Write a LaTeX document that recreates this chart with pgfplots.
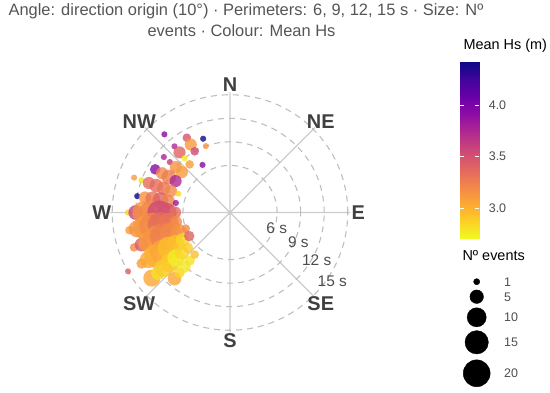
\documentclass[border=0pt]{standalone}
\usepackage{fontspec}
\setmainfont{Liberation Sans}
\usepackage{pgfplots}
\pgfplotsset{compat=1.18}
\usepackage{pgfplotstable}
\usepgfplotslibrary{polar}

\definecolor{titlegray}{HTML}{555555}
\definecolor{txtgray}{HTML}{4D4D4D}
\definecolor{lblgray}{HTML}{404040}
\definecolor{spoke}{HTML}{CCCCCC}
\definecolor{ring}{HTML}{BEBEBE}

% plasma, reversed (low = yellow)
\pgfplotsset{colormap={plasmar}{
  rgb255=(240,249,33) rgb255=(252,206,37) rgb255=(252,166,54)
  rgb255=(242,132,75) rgb255=(225,100,98) rgb255=(204,71,120)
  rgb255=(177,42,144) rgb255=(143,13,164) rgb255=(106,0,168)
  rgb255=(65,4,157) rgb255=(13,8,135)}}

% dir = direction origin (deg), per = period (s), n = events, hs = mean Hs (m)
\pgfplotstableread{
dir per n hs
320 13 1 3.95
330 11 2 3.50
340 10 1 4.40
330 10 4 3.12
340 9 1 3.15
320 11 1 3.75
320 10 4 3.40
330 9 2 3.55
320 9 1 2.75
310 11 1 3.78
310 10 1 3.65
320 8 2 3.10
330 7 1 3.95
300 11 3 3.95
310 9 4 3.15
310 8 4 3.10
300 10 4 3.20
300 9 6 3.25
300 8 4 3.75
290 13 1 3.10
290 12 1 2.80
290 11 4 3.35
290 10 5 3.35
290 9 5 3.30
290 8 4 3.20
290 7 1 2.85
280 12 1 4.42
280 11 4 3.15
280 10 6 3.30
280 9 7 3.40
280 8 5 3.25
280 7 1 3.85
270 13 1 2.85
270 12 6 3.60
270 11 14 3.15
270 10 16 3.20
270 9 16 3.55
270 8 10 3.50
270 7 4 3.35
260 13 2 3.10
260 12 8 3.15
260 11 16 3.12
260 10 20 3.20
260 9 18 3.35
260 8 12 3.30
260 7 4 3.20
250 13 2 3.20
250 12 5 3.45
250 11 12 3.10
250 10 20 3.15
250 9 20 3.25
250 8 14 3.20
250 7 6 3.15
250 6 2 3.20
240 15 1 3.40
240 13 3 3.10
240 12 8 3.05
240 11 14 3.00
240 10 16 3.05
240 9 14 2.95
240 8 9 2.95
240 7 5 2.85
240 6 3 3.40
230 13 8 3.05
230 12 5 2.80
230 11 9 2.90
230 10 10 2.90
230 9 8 2.75
230 8 5 2.85
230 7 3 2.90
220 11 5 3.05
220 10 3 2.85
220 9 4 2.78
220 8 3 2.80
220 7 2 2.95
}\waves

% size key, in picture pixels (y downwards)
\pgfplotstableread{
x y n
476.7 281.7 1
476.7 296.7 5
476.7 317.3 10
476.7 342.3 15
476.7 373.3 20
}\sizekey

\pgfplotsset{
  dotsize/.style={
    visualization depends on={3.1+3.0*(sqrt(\thisrow{n})-1) \as \msize},
    scatter/@pre marker code/.append style={/tikz/mark size=\msize}
  },
}
\tikzset{
  compass/.style={font=\fontsize{20}{24}\selectfont\bfseries, text=lblgray},
  ring label/.style={font=\fontsize{15.5}{18}\selectfont, text=txtgray},
  key label/.style={anchor=base west, inner sep=0pt, font=\fontsize{12.5}{15}\selectfont, text=txtgray},
}

\begin{document}
\begin{tikzpicture}
\useasboundingbox (0,0) rectangle (550bp,393bp);

\begin{polaraxis}[
  at={(230bp,180.5bp)}, anchor=center,
  scale only axis, width=240.2bp, height=240.2bp,
  xmin=0, xmax=360, ymin=0, ymax=15.3,
  xtick={0,45,...,315}, ytick={6,9,12,15},
  xticklabel={\mbox{}}, yticklabel={\mbox{}},
  major tick length=0pt,
  xmajorgrids, ymajorgrids,
  x grid style={spoke, line width=1.3bp},
  y grid style={ring, line width=1.1bp, dash pattern=on 6bp off 5bp},
  axis line style={draw=none},
  clip=false,
  colormap name=plasmar,
  point meta min=2.71, point meta max=4.42,
]
\addplot[scatter, only marks, mark=*,
  point meta=\thisrow{hs},
  scatter/use mapped color={draw=mapped color, fill=mapped color},
  dotsize,
  mark options={fill opacity=0.8, draw opacity=0}]
  table[x expr={mod(450-\thisrow{dir},360)}, y=per] {\waves};

\node[compass] at (axis cs:90,16.35) {N};
\node[compass] at (axis cs:45,16.35) {NE};
\node[compass] at (axis cs:0,16.35) {E};
\node[compass] at (axis cs:315,16.35) {SE};
\node[compass] at (axis cs:270,16.35) {S};
\node[compass] at (axis cs:225,16.35) {SW};
\node[compass] at (axis cs:180,16.35) {W};
\node[compass] at (axis cs:135,16.35) {NW};
\end{polaraxis}

% colour key
\begin{axis}[
  at={(460bp,154.7bp)}, anchor=south west,
  scale only axis, width=19.3bp, height=176.6bp,
  xmin=0, xmax=1, ymin=2.71, ymax=4.42,
  axis line style={draw=none},
  xtick=\empty, ytick={3,3.5,4},
  ytick pos=both, yticklabel pos=right,
  tick align=inside, major tick length=4bp,
  every tick/.style={draw=white, line width=0.8bp},
  axis on top,
  yticklabel style={font=\fontsize{12.5}{15}\selectfont, text=txtgray, xshift=6bp,
    /pgf/number format/.cd, fixed, fixed zerofill, precision=1, assume math mode=true},
  colormap name=plasmar,
  point meta min=2.71, point meta max=4.42,
]
\addplot[patch, patch type=rectangle, shader=interp, point meta=y]
  coordinates {(0,2.71) (1,2.71) (1,4.42) (0,4.42)};
\end{axis}

% texts and size key, in picture pixels
\begin{axis}[
  at={(0,0)}, anchor=south west,
  scale only axis, width=550bp, height=393bp,
  xmin=0, xmax=550, ymin=0, ymax=393, y dir=reverse,
  hide axis, clip=false,
]
\addplot[scatter, only marks, mark=*,
  point meta=\thisrow{n},
  scatter/use mapped color={draw=black, fill=black},
  dotsize]
  table[x=x, y=y] {\sizekey};

\node[anchor=base, font=\fontsize{16.5}{19}\selectfont, text=titlegray]
  at (axis cs:246,15.5) {Angle: direction origin (10°) · Perimeters: 6, 9, 12, 15 s · Size: Nº};
\node[anchor=base, font=\fontsize{16.5}{19}\selectfont, text=titlegray]
  at (axis cs:241.5,36) {events · Colour: Mean Hs};

\node[ring label] at (axis cs:276.7,228.3) {6 s};
\node[ring label] at (axis cs:298.3,241.7) {9 s};
\node[ring label] at (axis cs:316.7,260) {12 s};
\node[ring label] at (axis cs:332.3,281) {15 s};

\node[anchor=base west, font=\fontsize{14.5}{17}\selectfont] at (axis cs:460,49.3) {Mean Hs (m)};
\node[anchor=base west, font=\fontsize{14.5}{17}\selectfont] at (axis cs:459,260.5) {Nº events};

\node[key label] at (axis cs:504,286.2) {1};
\node[key label] at (axis cs:504,301.2) {5};
\node[key label] at (axis cs:504,321.8) {10};
\node[key label] at (axis cs:504,346.8) {15};
\node[key label] at (axis cs:504,377.8) {20};
\end{axis}
\end{tikzpicture}
\end{document}
